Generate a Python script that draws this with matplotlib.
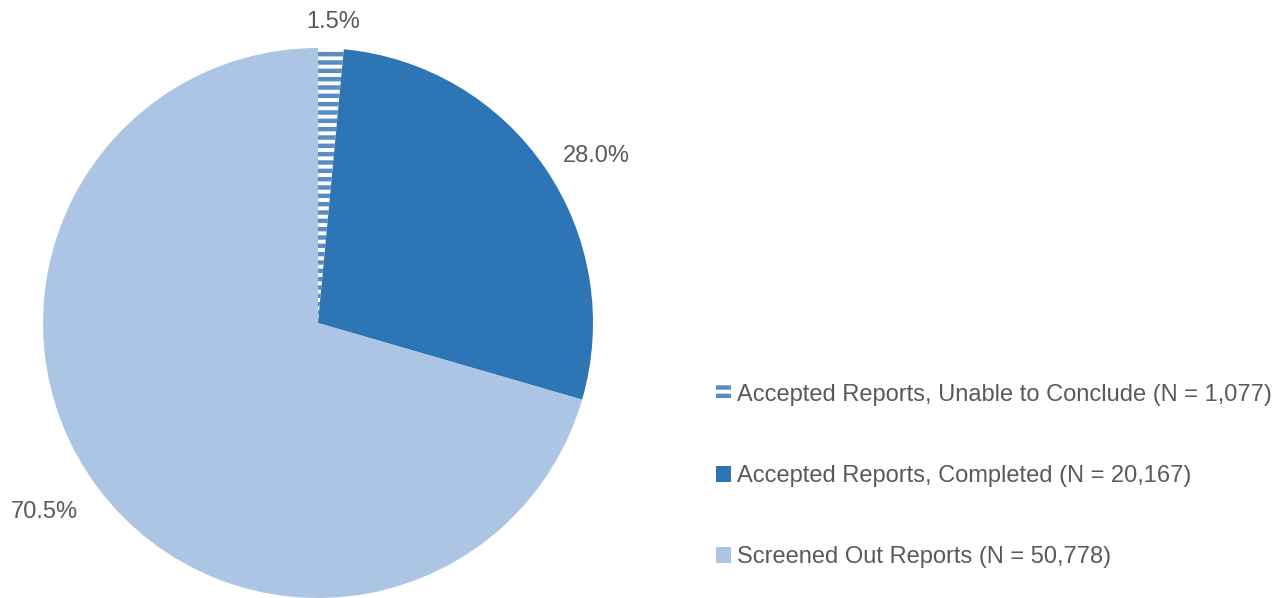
import matplotlib.pyplot as plt
from matplotlib.patches import Patch

plt.rcParams['font.family'] = ['Liberation Sans', 'DejaVu Sans']
plt.rcParams['hatch.linewidth'] = 3.2

labels = ['Accepted Reports, Unable to Conclude (N = 1,077)',
          'Accepted Reports, Completed (N = 20,167)',
          'Screened Out Reports (N = 50,778)']
counts = [1077, 20167, 50778]
pct_text = ['1.5%', '28.0%', '70.5%']

face = ['white', '#2E75B6', '#ADC5E4']
edge = ['#5A8DC3', '#2E75B6', '#ADC5E4']
hatch = ['--', None, None]
txt_col = '#595959'

fig = plt.figure(figsize=(12.79, 5.98), dpi=100)
W, H = 1279, 598
cx, cy, r = 318, 323, 275
ax = fig.add_axes([(cx - r) / W, (H - cy - r) / H, 2 * r / W, 2 * r / H])

wedges, _ = ax.pie(counts, startangle=90, counterclock=False, radius=1,
                   colors=face, wedgeprops=dict(linewidth=0))
for w, e, h in zip(wedges, edge, hatch):
    w.set_edgecolor(e)
    w.set_linewidth(0)
    if h:
        w.set_hatch(h)
ax.set_xlim(-1, 1)
ax.set_ylim(-1, 1)
ax.set_aspect('auto')
ax.axis('off')

# percentage labels (pixel positions from the reference)
lab_pos = [(333, 22), (596, 156), (44, 512)]
for (px, py), t in zip(lab_pos, pct_text):
    fig.text(px / W, 1 - py / H, t, ha='center', va='center',
             fontsize=17, color=txt_col)

handles = [Patch(facecolor=f, edgecolor=e, hatch=h, linewidth=0)
           for f, e, h in zip(face, edge, hatch)]
leg = fig.legend(handles, labels, loc='center left',
                 bbox_to_anchor=(716 / W, 1 - 476 / H),
                 frameon=False, fontsize=17, labelcolor=txt_col,
                 handlelength=0.65, handleheight=0.65, handletextpad=0.25,
                 labelspacing=2.5, borderaxespad=0, borderpad=0)

fig.savefig('out.png', dpi=100)
